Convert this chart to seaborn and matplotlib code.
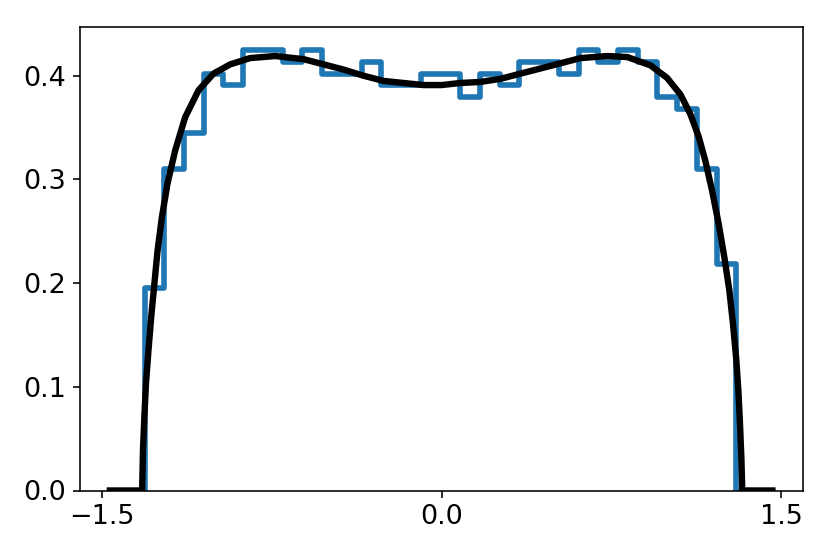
import numpy as np
import pandas as pd
import seaborn as sns
import matplotlib
matplotlib.use("Agg")
import matplotlib.pyplot as plt

# histogram: counts per bin (1000 samples, 30 bins)
bin_lo, bin_hi, n_bins = -1.310, 1.301, 30
counts = [17, 27, 30, 35, 34, 37, 37, 36, 37, 35,
          35, 36, 34, 34, 35, 35, 33, 35, 34, 36,
          36, 35, 37, 36, 37, 36, 33, 32, 27, 19]

# density curve
curve_x = [-1.463, -1.321, -1.317, -1.311, -1.304, -1.293, -1.281, -1.267,
           -1.253, -1.234, -1.209, -1.175, -1.131, -1.072, -1.006, -0.932,
           -0.888, -0.845, -0.734, -0.609, -0.521, -0.433, -0.344, -0.256,
           -0.167, -0.079, 0.0, 0.083, 0.171, 0.260, 0.348, 0.437, 0.525,
           0.613, 0.731, 0.820, 0.922, 0.995, 1.054, 1.098, 1.135, 1.164,
           1.194, 1.223, 1.248, 1.270, 1.286, 1.300, 1.310, 1.317, 1.323,
           1.327, 1.460]
curve_y = [0.0, 0.0, 0.039, 0.071, 0.103, 0.135, 0.167, 0.199,
           0.231, 0.263, 0.296, 0.328, 0.360, 0.386, 0.402, 0.411,
           0.414, 0.417, 0.419, 0.416, 0.411, 0.406, 0.400, 0.395,
           0.393, 0.391, 0.391, 0.393, 0.394, 0.397, 0.402, 0.407, 0.412,
           0.417, 0.419, 0.418, 0.410, 0.398, 0.382, 0.363, 0.341, 0.318,
           0.289, 0.257, 0.225, 0.193, 0.161, 0.128, 0.096, 0.064, 0.032,
           0.0, 0.0]

edges = np.linspace(bin_lo, bin_hi, n_bins + 1)
step = edges[1] - edges[0]
# one empty bin on each side so the outline drops to zero
edges = np.concatenate([[edges[0] - step], edges, [edges[-1] + step]])
hist_df = pd.DataFrame({"x": (edges[:-1] + edges[1:]) / 2, "w": [0] + counts + [0]})

dpi = 144
fig = plt.figure(figsize=(830 / dpi, 554 / dpi), dpi=dpi)
ax = fig.add_axes([80 / 830, 1 - 490.5 / 554, (803 - 80) / 830, (490.5 - 27) / 554])

sns.histplot(data=hist_df, x="x", weights="w", bins=list(edges), stat="density",
             element="step", fill=False, color="#1f77b4", linewidth=2.8, ax=ax)
sns.lineplot(x=curve_x, y=curve_y, color="black", linewidth=3.2,
             sort=False, estimator=None, ax=ax)

ax.set_xlim(-1.595, 1.595)
ax.set_ylim(0, 0.447)
ax.set_xticks([-1.5, 0.0, 1.5])
ax.set_yticks([0.0, 0.1, 0.2, 0.3, 0.4])
ax.set_xticklabels(["\u22121.5", "0.0", "1.5"])
ax.set_yticklabels(["0.0", "0.1", "0.2", "0.3", "0.4"])
ax.tick_params(labelsize=13.5)
ax.set_xlabel("")
ax.set_ylabel("")

fig.savefig("out.png", dpi=dpi)
